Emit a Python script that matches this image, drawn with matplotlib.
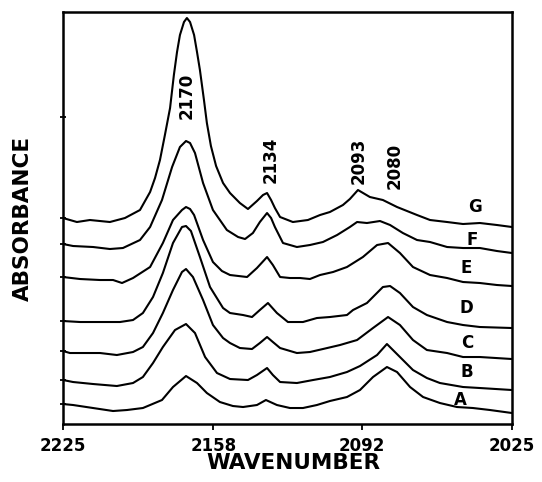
import numpy as np
import matplotlib.pyplot as plt
from matplotlib.transforms import ScaledTranslation


# spectra (wavenumber, absorbance a.u.)
wn_A = [2225.0, 2220.5, 2211.6, 2202.7, 2196.5, 2189.4, 2186.2, 2180.9, 2176.0, 2170.2, 2165.3, 2160.9, 2155.1, 2149.3,
        2144.8, 2138.6, 2134.6, 2129.7, 2123.9, 2118.1, 2111.9, 2106.1, 2098.5, 2092.7, 2086.9, 2080.7, 2076.2, 2070.4,
        2064.6, 2057.1, 2049.5, 2042.4, 2034.8, 2025.0]
abs_A = [0.020, 0.019, 0.016, 0.013, 0.014, 0.016, 0.019, 0.024, 0.037, 0.048, 0.041, 0.031, 0.022, 0.018,
         0.017, 0.019, 0.024, 0.019, 0.016, 0.016, 0.019, 0.023, 0.027, 0.034, 0.047, 0.057, 0.052, 0.037,
         0.027, 0.021, 0.017, 0.016, 0.014, 0.011]

wn_B = [2225.0, 2220.5, 2211.6, 2201.0, 2193.8, 2189.4, 2184.9, 2180.5, 2175.1, 2170.2, 2166.2, 2161.7, 2156.4, 2150.6,
        2142.6, 2138.6, 2134.1, 2131.5, 2128.3, 2120.8, 2113.6, 2106.1, 2098.5, 2092.7, 2085.1, 2080.7, 2074.9, 2069.1,
        2062.9, 2057.1, 2046.8, 2039.3, 2025.0]
abs_B = [0.044, 0.042, 0.040, 0.038, 0.041, 0.047, 0.061, 0.077, 0.094, 0.100, 0.091, 0.067, 0.051, 0.045,
         0.044, 0.049, 0.056, 0.049, 0.042, 0.041, 0.044, 0.047, 0.052, 0.058, 0.069, 0.080, 0.067, 0.054,
         0.046, 0.041, 0.037, 0.036, 0.034]

wn_C = [2225.0, 2221.9, 2214.3, 2208.5, 2201.0, 2193.8, 2189.4, 2184.9, 2180.5, 2176.0, 2172.0, 2170.2, 2167.1, 2162.6,
        2158.2, 2153.7, 2150.6, 2146.2, 2140.8, 2137.3, 2134.1, 2131.5, 2128.3, 2120.8, 2115.0, 2109.2, 2101.6, 2094.0,
        2086.9, 2080.2, 2074.9, 2069.1, 2062.9, 2053.9, 2046.8, 2039.3, 2025.0]
abs_C = [0.073, 0.071, 0.071, 0.071, 0.069, 0.072, 0.077, 0.091, 0.111, 0.134, 0.152, 0.155, 0.147, 0.124,
         0.099, 0.086, 0.081, 0.076, 0.075, 0.081, 0.087, 0.082, 0.076, 0.071, 0.072, 0.075, 0.079, 0.084,
         0.096, 0.107, 0.099, 0.084, 0.074, 0.071, 0.067, 0.067, 0.065]

wn_D = [2225.0, 2217.4, 2208.5, 2199.6, 2193.8, 2189.4, 2184.9, 2180.5, 2176.0, 2172.0, 2170.2, 2168.0, 2164.0, 2159.5,
        2153.7, 2150.6, 2144.8, 2140.8, 2137.3, 2133.7, 2129.7, 2124.8, 2118.1, 2111.9, 2106.1, 2098.5, 2095.8, 2089.6,
        2082.5, 2079.3, 2074.9, 2069.1, 2062.9, 2053.9, 2046.8, 2039.3, 2025.0]
abs_D = [0.103, 0.102, 0.102, 0.102, 0.104, 0.111, 0.127, 0.151, 0.181, 0.197, 0.198, 0.193, 0.167, 0.137,
         0.116, 0.111, 0.109, 0.107, 0.114, 0.121, 0.111, 0.102, 0.102, 0.106, 0.107, 0.109, 0.114, 0.121,
         0.137, 0.138, 0.131, 0.117, 0.109, 0.102, 0.099, 0.097, 0.096]

wn_E = [2225.0, 2217.4, 2208.5, 2202.7, 2198.7, 2193.8, 2186.2, 2180.5, 2176.0, 2172.0, 2170.2, 2168.4, 2166.6, 2162.6,
        2158.2, 2154.2, 2150.6, 2143.0, 2138.6, 2134.1, 2131.5, 2128.3, 2123.9, 2119.4, 2115.0, 2110.5, 2104.7, 2098.5,
        2091.4, 2085.1, 2080.2, 2074.9, 2069.1, 2061.5, 2053.9, 2046.8, 2039.3, 2031.7, 2025.0]
abs_E = [0.147, 0.145, 0.144, 0.144, 0.141, 0.146, 0.157, 0.181, 0.204, 0.214, 0.217, 0.215, 0.209, 0.184,
         0.162, 0.153, 0.149, 0.147, 0.156, 0.167, 0.159, 0.147, 0.146, 0.146, 0.145, 0.149, 0.152, 0.157,
         0.167, 0.179, 0.181, 0.171, 0.157, 0.149, 0.146, 0.142, 0.141, 0.139, 0.138]

wn_F = [2225.0, 2220.5, 2211.6, 2204.1, 2198.3, 2190.7, 2186.2, 2180.9, 2176.4, 2172.9, 2170.2, 2168.4, 2166.2, 2162.6,
        2158.2, 2152.0, 2147.0, 2143.9, 2140.4, 2137.3, 2134.1, 2132.3, 2130.6, 2127.0, 2120.8, 2115.0, 2109.2, 2102.9,
        2097.2, 2094.0, 2089.6, 2083.8, 2079.3, 2073.6, 2067.3, 2061.5, 2053.9, 2046.8, 2039.3, 2031.7, 2025.0]
abs_F = [0.180, 0.178, 0.177, 0.175, 0.176, 0.184, 0.197, 0.224, 0.257, 0.277, 0.283, 0.281, 0.271, 0.241,
         0.214, 0.194, 0.187, 0.185, 0.191, 0.202, 0.211, 0.206, 0.197, 0.181, 0.177, 0.179, 0.182, 0.189,
         0.197, 0.202, 0.201, 0.203, 0.199, 0.191, 0.184, 0.182, 0.177, 0.176, 0.176, 0.173, 0.171]

wn_G = [2225.0, 2218.8, 2213.0, 2204.1, 2197.4, 2190.7, 2186.2, 2184.0, 2181.8, 2179.6, 2177.3, 2175.6, 2174.2, 2172.9,
        2171.1, 2169.8, 2168.4, 2166.6, 2165.3, 2164.0, 2162.2, 2160.9, 2159.1, 2156.8, 2153.7, 2150.6, 2146.2, 2142.6,
        2138.6, 2135.9, 2134.1, 2132.3, 2130.6, 2128.3, 2122.6, 2115.9, 2110.5, 2106.1, 2100.3, 2097.2, 2093.6, 2088.3,
        2082.5, 2076.2, 2067.3, 2061.5, 2053.9, 2046.8, 2039.3, 2031.7, 2025.0]
abs_G = [0.206, 0.202, 0.204, 0.202, 0.206, 0.214, 0.232, 0.246, 0.264, 0.289, 0.316, 0.349, 0.372, 0.389,
         0.402, 0.406, 0.402, 0.389, 0.372, 0.354, 0.324, 0.301, 0.278, 0.258, 0.241, 0.231, 0.221, 0.215,
         0.223, 0.229, 0.231, 0.224, 0.216, 0.207, 0.202, 0.204, 0.209, 0.212, 0.219, 0.225, 0.234, 0.227,
         0.224, 0.217, 0.209, 0.204, 0.202, 0.200, 0.201, 0.199, 0.197]

curve_names = ["A", "B", "C", "D", "E", "F", "G"]
curve_wn = [wn_A, wn_B, wn_C, wn_D, wn_E, wn_F, wn_G]
curve_abs = [abs_A, abs_B, abs_C, abs_D, abs_E, abs_F, abs_G]

# where the curve letters sit
name_wn = [2048.2, 2045.0, 2045.0, 2045.5, 2045.5, 2042.8, 2041.5]
name_abs = [0.024, 0.052, 0.081, 0.116, 0.156, 0.184, 0.217]

# band assignments
band_labels = ["2170", "2134", "2093", "2080"]
band_wn = [2169.8, 2132.3, 2093.2, 2077.1]
band_abs = [0.328, 0.264, 0.263, 0.258]

x_ticks = [2225, 2158, 2092, 2025]
extra_ytick = 0.307


fig = plt.figure(figsize=(5.42, 4.82), dpi=100)
ax = fig.add_axes([0.1162, 0.1203, 0.8284, 0.8548])

for wn, ab in zip(curve_wn, curve_abs):
    ax.plot(wn, ab, color='black', lw=1.5, solid_joinstyle='round', solid_capstyle='round')

for name, x, y in zip(curve_names, name_wn, name_abs):
    ax.text(x, y, name, ha='center', va='center', fontsize=12, fontweight='bold')

for lab, x, y in zip(band_labels, band_wn, band_abs):
    ax.text(x, y, lab, ha='center', va='center', rotation=90, fontsize=12, fontweight='bold')

ax.set_xlim(2225, 2025)
ax.set_ylim(0, 0.412)

ax.set_xticks(x_ticks)
ax.set_xticklabels([str(t) for t in x_ticks], fontsize=12, fontweight='bold')
offset = ScaledTranslation(5 / 100, 0, fig.dpi_scale_trans)
for lbl in ax.get_xticklabels():
    lbl.set_transform(lbl.get_transform() + offset)
ax.tick_params(axis='x', direction='out', length=4, width=1.3, pad=5)

ax.set_yticks(sorted([ab[0] for ab in curve_abs] + [extra_ytick]))
ax.set_yticklabels([])
ax.tick_params(axis='y', direction='inout', length=5, width=1.3)

for sp in ax.spines.values():
    sp.set_linewidth(1.8)

ax.set_xlabel("WAVENUMBER", fontsize=15.5, fontweight='bold', va='center')
ax.xaxis.set_label_coords(0.514, -0.095)
ax.set_ylabel("ABSORBANCE", fontsize=15.5, fontweight='bold', va='center')
ax.yaxis.set_label_coords(-0.089, 0.5)

plt.savefig("out.png", dpi=100)
